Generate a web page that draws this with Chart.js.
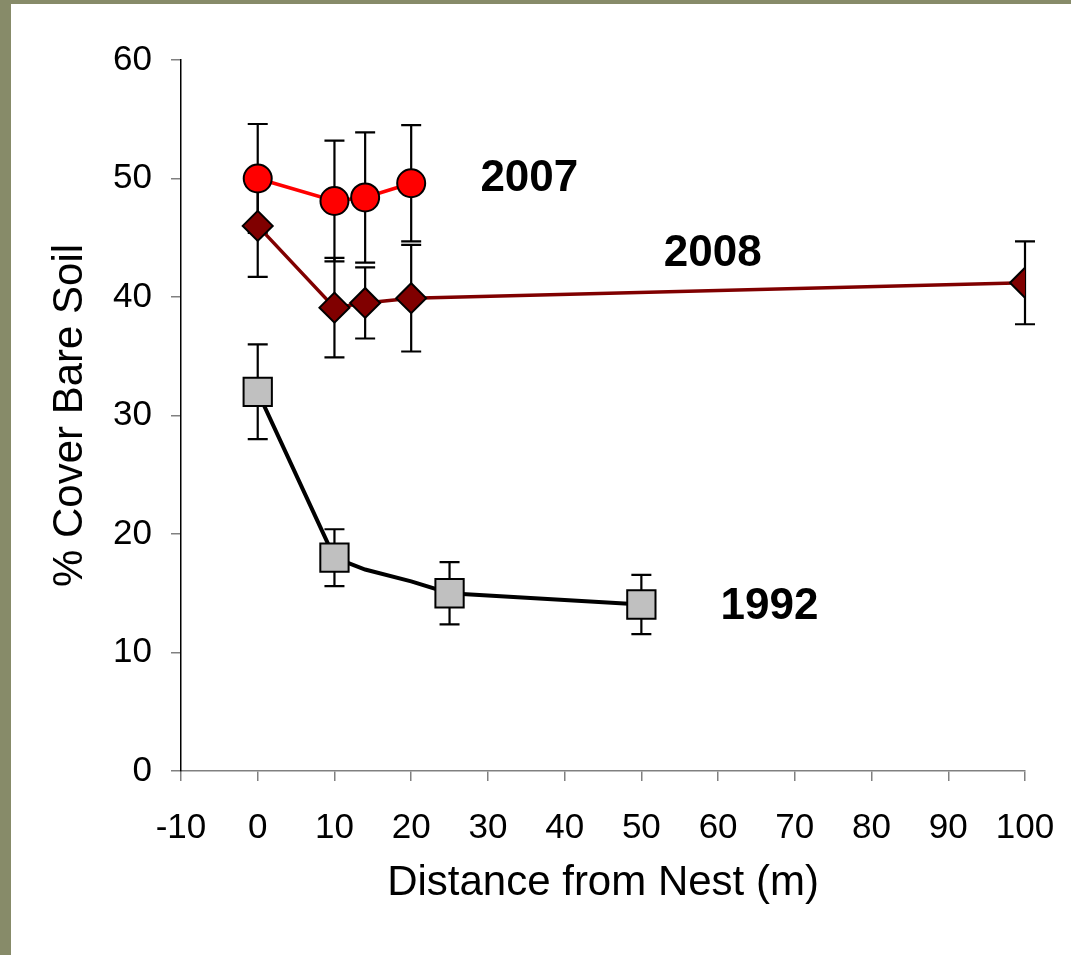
<!DOCTYPE html>
<html>
<head>
<meta charset="utf-8">
<script src="https://cdn.jsdelivr.net/npm/chart.js@4"></script>
<style>
  html, body { margin: 0; padding: 0; }
  body { width: 1071px; height: 955px; background: #878b69; position: relative; overflow: hidden; }
  #wrap { position: absolute; left: 11px; top: 4px; width: 1060px; height: 951px; background: #fff; }
</style>
</head>
<body>
<div id="wrap"><canvas id="chart"></canvas></div>
<script>
// values
const x2007 = [0, 10, 14, 20];
const y2007 = [50.0, 48.1, 48.4, 49.6];
const e2007 = [4.6, 5.1, 5.5, 4.9];

const x2008 = [0, 10, 14, 20, 100];
const y2008 = [46.0, 39.1, 39.5, 39.9, 41.2];
const e2008 = [4.3, 4.2, 3.0, 4.5, 3.5];

const x1992 = [0, 10, 14, 20, 25, 50];
const y1992 = [32.0, 18.0, 17.0, 16.0, 15.0, 14.05];
const e1992 = [4.0, 2.4, null, null, 2.63, 2.5];
const shown1992 = [true, true, false, false, true, true];

const xTicks = [-10, 0, 10, 20, 30, 40, 50, 60, 70, 80, 90, 100];
const yTicks = [0, 10, 20, 30, 40, 50, 60];

const yearLabels = ['2007', '2008', '1992'];
const yearLabelX = [35.4, 59.3, 66.7];
const yearLabelY = [50.1, 43.8, 14.0];

const FONT = 'Arial, "Liberation Sans", sans-serif';

function pts(xs, ys) {
    return xs.map((x, i) => ({ x: x, y: ys[i] }));
}

const errorBars = {
    id: 'errorBars',
    beforeDatasetsDraw(chart) {
        const ctx = chart.ctx;
        const xs = chart.scales.x, ys = chart.scales.y;
        ctx.save();
        ctx.strokeStyle = '#000';
        ctx.lineWidth = 2.2;
        chart.data.datasets.forEach(ds => {
            ds.data.forEach((p, i) => {
                const e = ds.errors[i];
                if (e == null) return;
                const px = xs.getPixelForValue(p.x);
                const top = ys.getPixelForValue(p.y + e);
                const bot = ys.getPixelForValue(p.y - e);
                ctx.beginPath();
                ctx.moveTo(px, top); ctx.lineTo(px, bot);
                ctx.moveTo(px - 10, top); ctx.lineTo(px + 10, top);
                ctx.moveTo(px - 10, bot); ctx.lineTo(px + 10, bot);
                ctx.stroke();
            });
        });
        ctx.restore();
    }
};

const yearText = {
    id: 'yearText',
    afterDatasetsDraw(chart) {
        const ctx = chart.ctx;
        ctx.save();
        ctx.fillStyle = '#000';
        ctx.font = 'bold 44px ' + FONT;
        ctx.textAlign = 'center';
        ctx.textBaseline = 'middle';
        yearLabels.forEach((t, i) => {
            ctx.fillText(t, chart.scales.x.getPixelForValue(yearLabelX[i]),
                chart.scales.y.getPixelForValue(yearLabelY[i]) + 2);
        });
        ctx.restore();
    }
};

new Chart(document.getElementById('chart'), {
    type: 'scatter',
    data: {
        datasets: [
            {
                label: '2007',
                data: pts(x2007, y2007),
                errors: e2007,
                showLine: true,
                borderColor: '#ff0000',
                borderWidth: 3.5,
                pointStyle: 'circle',
                pointRadius: 14,
                pointBackgroundColor: '#ff0000',
                pointBorderColor: '#000',
                pointBorderWidth: 2
            },
            {
                label: '2008',
                data: pts(x2008, y2008),
                errors: e2008,
                showLine: true,
                borderColor: '#800000',
                borderWidth: 3.5,
                pointStyle: 'rectRot',
                pointRadius: 15,
                pointBackgroundColor: '#800000',
                pointBorderColor: '#000',
                pointBorderWidth: 2
            },
            {
                label: '1992',
                data: pts(x1992, y1992),
                errors: e1992,
                showLine: true,
                borderColor: '#000',
                borderWidth: 4,
                pointStyle: 'rect',
                pointRadius: shown1992.map(s => s ? 20 : 0),
                pointBackgroundColor: '#c0c0c0',
                pointBorderColor: '#000',
                pointBorderWidth: 2
            }
        ]
    },
    options: {
        responsive: true,
        maintainAspectRatio: false,
        animation: false,
        events: [],
        layout: { autoPadding: false, padding: { top: 56, right: 46, left: 0, bottom: 0 } },
        plugins: { legend: { display: false }, tooltip: { enabled: false } },
        scales: {
            x: {
                type: 'linear',
                min: -10, max: 100,
                afterBuildTicks: s => { s.ticks = xTicks.map(v => ({ value: v })); },
                afterFit: s => { s.height = 184; s.paddingLeft = 0; s.paddingRight = 0; },
                border: { color: '#808080', width: 1.5 },
                grid: { drawOnChartArea: false, drawTicks: true, tickLength: 10, color: '#808080', lineWidth: 1.5 },
                ticks: { color: '#000', font: { family: FONT, size: 35 }, padding: 26, maxRotation: 0 },
                title: { display: true, text: 'Distance from Nest (m)', color: '#000',
                    font: { family: FONT, size: 42 }, padding: { top: 46, bottom: 46 } }
            },
            y: {
                type: 'linear',
                min: 0, max: 60,
                afterBuildTicks: s => { s.ticks = yTicks.map(v => ({ value: v })); },
                afterFit: s => { s.width = 170; s.paddingTop = 0; s.paddingBottom = 0; },
                border: { color: '#000', width: 1.5 },
                grid: { drawOnChartArea: false, drawTicks: true, tickLength: 10, color: '#808080', lineWidth: 1.5 },
                ticks: { color: '#000', font: { family: FONT, size: 35 }, padding: 19 },
                title: { display: true, text: '% Cover Bare Soil', color: '#000',
                    font: { family: FONT, size: 42 }, padding: { top: 34, bottom: 34 } }
            }
        }
    },
    plugins: [errorBars, yearText]
});
</script>
</body>
</html>
